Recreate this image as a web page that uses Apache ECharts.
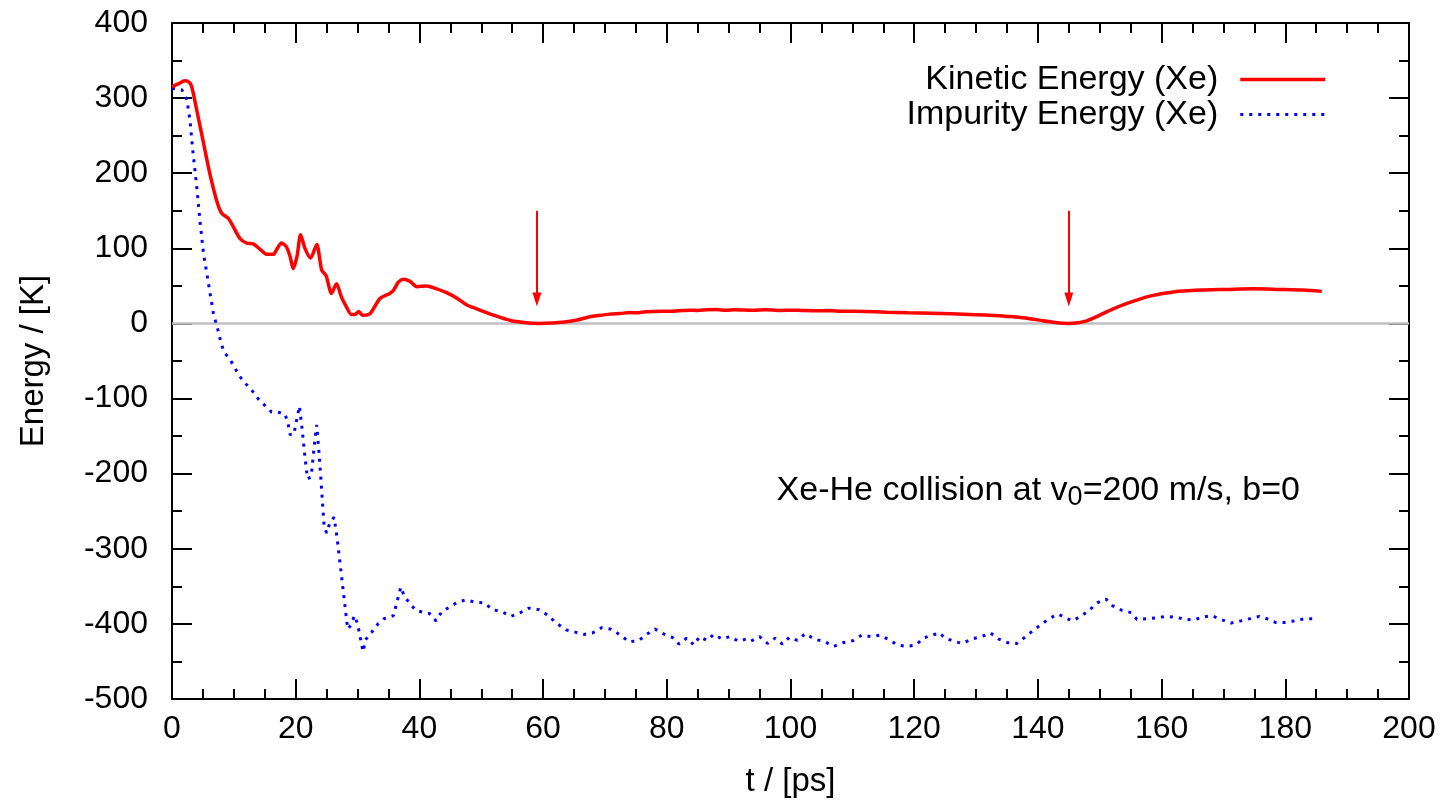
<!DOCTYPE html>
<html>
<head>
<meta charset="utf-8">
<script src="https://cdn.jsdelivr.net/npm/echarts@6/dist/echarts.min.js"></script>
<style>
html,body{margin:0;padding:0;background:#fff;}
#chart{width:1448px;height:803px;}
</style>
</head>
<body>
<div id="chart"></div>
<script>
// ---- data ----
var kineticT = [0, 1, 2.1, 2.8, 3.2, 4.0, 5.1, 6.1, 7.2, 8.0, 9.1, 9.9, 11.0, 12.1, 13.1, 14.2, 15.3, 16.4, 16.9, 17.7, 18.5, 19.1, 19.6, 20.2, 20.8, 21.5, 22.4, 23.4, 24.2, 24.9, 25.8, 26.6, 27.4, 28.2, 29.0, 29.6, 30.2, 30.8, 32.0, 33.6, 35.2, 35.8, 36.6, 37.4, 38.5, 39.6, 41.2, 42.8, 44.4, 46.2, 47.6, 49.1, 52.0, 54.9, 57.0, 59.2, 61.5, 63.5, 65.5, 67.1, 69.0, 70.8, 72.5, 74.0, 75.1, 76.5, 78.0, 79.4, 81.0, 82.5, 83.7, 85.0, 86.5, 88.1, 89.5, 91.0, 93.9, 96.0, 98.0, 101.0, 104.0, 106.0, 108.3, 112.0, 115.5, 119.0, 122.7, 126.0, 129.9, 133.0, 135.0, 137.2, 139.0, 140.8, 142.8, 144.9, 146.5, 147.9, 149.5, 151.1, 154.4, 158.1, 161.9, 166.2, 170.5, 174.8, 179.1, 182.9, 185.9];
var kineticE = [315, 319, 323, 321, 315, 284, 240, 200, 164, 147, 140, 129, 113, 107, 106, 99, 92, 92, 98, 107, 102, 89, 73, 89, 118, 100, 87, 105, 71, 64, 40, 53, 35, 22, 12, 12, 16, 11, 13, 33, 40, 44, 55, 59, 56, 49, 50, 46, 41, 33, 25, 20, 11, 3.5, 1.2, 0, 0.6, 2, 4.5, 8, 10.5, 12.4, 13.2, 14.5, 14.2, 15.5, 16, 16.3, 16.2, 17.2, 17.7, 17.2, 18.3, 18.5, 17.6, 18.2, 17.5, 18.1, 17.4, 17.5, 16.9, 17.1, 16.4, 16, 15, 14.2, 13.6, 12.8, 11.6, 10.5, 9.4, 8, 6, 3.5, 1.2, 0, 1, 3.5, 9, 15.5, 26.7, 36.4, 42, 44.4, 45.3, 46.2, 45.3, 44.4, 42.7];

var impurityT = [0, 1.6, 2.4, 2.9, 3.4, 4.0, 4.5, 5.1, 5.9, 6.7, 7.5, 7.9, 8.4, 9.4, 10.9, 12.0, 13.0, 14.0, 15.0, 16.1, 17.1, 18.3, 18.8, 19.1, 19.7, 20.0, 20.6, 21.0, 21.5, 21.9, 22.5, 23.0, 23.4, 23.8, 24.6, 25.0, 25.5, 26.2, 26.7, 28.4, 28.9, 29.5, 30.0, 30.9, 31.3, 32.3, 33.3, 34.3, 35.8, 37.0, 37.6, 38.4, 39.4, 40.8, 41.6, 42.7, 43.6, 44.8, 46.2, 47.5, 49.0, 50.5, 51.8, 53.4, 54.8, 56.3, 57.7, 59.3, 60.7, 62.0, 63.7, 65.2, 66.6, 68.0, 69.5, 71.0, 72.5, 73.9, 75.5, 76.7, 78.1, 79.4, 80.9, 82.0, 83.2, 84.4, 85.3, 86.5, 87.6, 88.9, 90.2, 91.6, 92.9, 93.6, 95.0, 96.3, 97.5, 98.7, 99.8, 101.1, 102.4, 103.8, 105.6, 107.0, 108.5, 110.2, 111.5, 113.0, 114.4, 115.9, 117.3, 118.8, 120.3, 121.5, 122.9, 124.2, 124.8, 126.3, 127.8, 129.3, 130.9, 132.3, 133.6, 135.1, 136.6, 138.0, 139.2, 140.5, 141.8, 143.3, 144.7, 145.6, 147.1, 148.4, 149.6, 151.0, 152.1, 153.6, 155.1, 156.0, 157.5, 159.1, 160.7, 162.3, 163.8, 165.2, 166.5, 168.1, 169.6, 171.2, 172.8, 174.3, 175.8, 177.0, 178.4, 179.9, 181.5, 183.2, 184.8];
var impurityE = [313, 311, 298, 271, 227, 182, 138, 93, 53, 13, -11, -25, -38, -48, -70, -81, -90, -101, -109, -118, -118, -121, -135, -148, -148, -135, -110, -138, -178, -207, -204, -163, -135, -175, -270, -279, -266, -258, -286, -407, -402, -389, -400, -437, -421, -411, -400, -393, -389, -351, -364, -372, -382, -385, -386, -396, -384, -378, -371, -368, -371, -372, -381, -384, -390, -385, -379, -381, -388, -398, -408, -411, -414, -412, -405, -407, -415, -424, -422, -414, -407, -413, -418, -427, -419, -428, -417, -422, -414, -420, -417, -423, -420, -423, -417, -426, -419, -427, -418, -422, -413, -420, -424, -430, -425, -422, -415, -417, -415, -421, -428, -430, -428, -419, -415, -412, -418, -423, -426, -420, -417, -412, -420, -425, -426, -417, -409, -401, -393, -387, -393, -396, -389, -381, -372, -367, -376, -382, -385, -394, -393, -392, -390, -391, -394, -395, -391, -389, -394, -399, -396, -393, -390, -393, -398, -398, -396, -393, -393];

var arrowT = [59, 145];
var arrowFromE = 150;
var arrowToE = 32;

var xTicks = {min: 0, max: 200, interval: 20};
var yTicks = {min: -500, max: 400, interval: 100};

var seriesNames = ['Kinetic Energy (Xe)', 'Impurity Energy (Xe)'];
var xTitle = 't / [ps]';
var yTitle = 'Energy / [K]';

// ---- build ----
function pairs(xs, ys) { return xs.map(function (x, i) { return [x, ys[i]]; }); }

var FONT = '"Liberation Sans", Arial, Helvetica, sans-serif';
var FS = 32;
var FS_TEXT = 34;
var FS_TITLE = 33;

function xAxisDef(pos, labels) {
  return {
    type: 'value', position: pos, min: xTicks.min, max: xTicks.max, interval: xTicks.interval,
    name: labels ? xTitle : '', nameLocation: 'middle', nameGap: 66,
    nameTextStyle: {fontFamily: FONT, fontSize: FS_TITLE, color: '#000'},
    axisLine: {show: true, onZero: false, lineStyle: {color: '#000', width: 2}},
    axisTick: {show: true, inside: true, length: 20, lineStyle: {color: '#000', width: 2}},
    minorTick: {show: true, splitNumber: 4, length: 10, lineStyle: {color: '#000', width: 2}},
    axisLabel: {show: labels, margin: 14, fontFamily: FONT, fontSize: FS, color: '#000'},
    splitLine: {show: false}
  };
}
function yAxisDef(pos, labels) {
  return {
    type: 'value', position: pos, min: yTicks.min, max: yTicks.max, interval: yTicks.interval,
    name: labels ? yTitle : '', nameLocation: 'middle', nameGap: 122, nameRotate: 90,
    nameTextStyle: {fontFamily: FONT, fontSize: FS_TITLE, color: '#000'},
    axisLine: {show: true, onZero: false, lineStyle: {color: '#000', width: 2}},
    axisTick: {show: true, inside: true, length: 20, lineStyle: {color: '#000', width: 2}},
    minorTick: {show: true, splitNumber: 2, length: 10, lineStyle: {color: '#000', width: 2}},
    axisLabel: {show: labels, margin: 24, fontFamily: FONT, fontSize: FS, color: '#000'},
    splitLine: {show: false}
  };
}

var arrowData = arrowT.map(function (t) {
  return [{coord: [t, arrowFromE]}, {coord: [t, arrowToE]}];
});
var ARROW_HEAD = 'path://M0,0 M14,14 M7,0 L11.5,14 L2.5,14 Z';

var chart = echarts.init(document.getElementById('chart'), null, {renderer: 'canvas'});
chart.setOption({
  animation: false,
  backgroundColor: '#fff',
  grid: {left: 172, right: 39, top: 23, bottom: 104, containLabel: false},
  xAxis: [xAxisDef('bottom', true), xAxisDef('top', false)],
  yAxis: [yAxisDef('left', true), yAxisDef('right', false)],
  legend: {
    orient: 'vertical', align: 'right', right: 121, top: 62, padding: 0, itemGap: 0,
    itemWidth: 85, itemHeight: 14,
    itemStyle: {opacity: 0},
    textStyle: {fontFamily: FONT, fontSize: FS_TEXT, color: '#000', lineHeight: 35, padding: [0, 17, 0, 0]},
    data: [
      {name: seriesNames[0], lineStyle: {width: 3.5, color: '#ff0000', type: 'solid'}},
      {name: seriesNames[1], lineStyle: {width: 3, color: '#0000ff', type: [3, 6]}}
    ]
  },
  graphic: [{
    type: 'text', right: 148, top: 474, z: 10,
    style: {
      text: '{m|Xe-He collision at v}{s|0}{m|=200 m/s, b=0}',
      rich: {
        m: {fontFamily: FONT, fontSize: FS_TEXT, fill: '#000', lineHeight: 40},
        s: {fontFamily: FONT, fontSize: 27, fill: '#000', lineHeight: 14, verticalAlign: 'bottom'}
      }
    }
  }],
  series: [
    {
      name: seriesNames[0], type: 'line', xAxisIndex: 0, yAxisIndex: 0, z: 3,
      data: pairs(kineticT, kineticE), symbol: 'none', smooth: 0.25,
      lineStyle: {color: '#ff0000', width: 3.5}, itemStyle: {color: '#ff0000'},
      markLine: {
        silent: true, z: 5, symbol: ['none', ARROW_HEAD], symbolSize: 14,
        label: {show: false},
        lineStyle: {color: '#ff0000', width: 2, type: 'solid'},
        data: arrowData
      }
    },
    {
      name: seriesNames[1], type: 'line', xAxisIndex: 0, yAxisIndex: 0, z: 2,
      data: pairs(impurityT, impurityE), symbol: 'none',
      lineStyle: {color: '#0000ff', width: 3, type: [3, 6]}, itemStyle: {color: '#0000ff'},
      markLine: {
        silent: true, z: 1, symbol: ['none', 'none'],
        label: {show: false},
        lineStyle: {color: '#c0c0c0', width: 2.5, type: 'solid'},
        data: [{yAxis: 0}]
      }
    }
  ]
});
</script>
</body>
</html>
